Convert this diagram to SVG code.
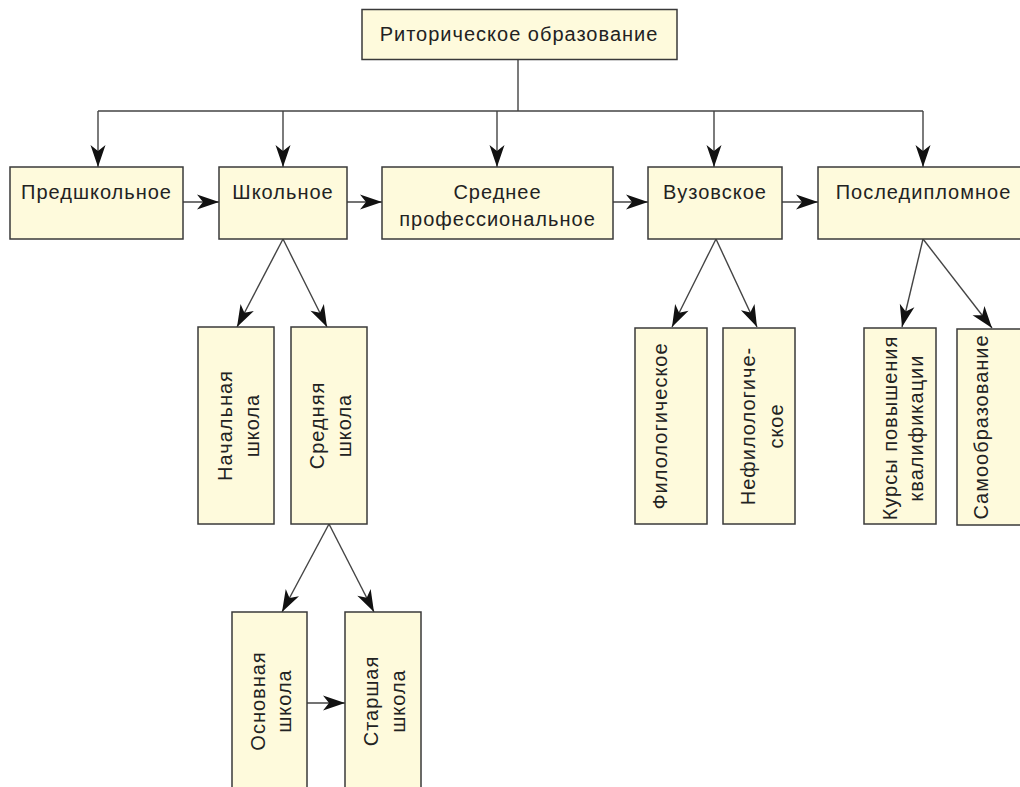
<svg xmlns="http://www.w3.org/2000/svg" width="1020" height="787" viewBox="0 0 1020 787">
<style>
  .box { fill: #FEFADC; stroke: #3a3a3a; stroke-width: 1.5; }
  .t { font-family: "Liberation Sans", Arial, sans-serif; font-size: 20px; letter-spacing: 1px; fill: #222; }
  .c { text-anchor: middle; }
  .ln { fill: none; stroke: #444; stroke-width: 1.4; }
</style>
<defs>
  <marker id="ah" viewBox="-23 -8 24 16" refX="0" refY="0" markerWidth="24" markerHeight="16" markerUnits="userSpaceOnUse" orient="auto">
    <path d="M0,0 L-22,-7.5 L-16,0 L-22,7.5 Z" fill="#111"/>
  </marker>
</defs>
<rect width="1020" height="787" fill="#fff"/>

<g id="connectors">
  <path class="ln" d="M518,59 V111 M98,111 H923"/>
  <path class="ln" d="M98,111 V167" marker-end="url(#ah)"/>
  <path class="ln" d="M283,111 V167" marker-end="url(#ah)"/>
  <path class="ln" d="M497,111 V167" marker-end="url(#ah)"/>
  <path class="ln" d="M714,111 V167" marker-end="url(#ah)"/>
  <path class="ln" d="M923,111 V167" marker-end="url(#ah)"/>
  <path class="ln" d="M183,202 H219" marker-end="url(#ah)"/>
  <path class="ln" d="M347,202 H382" marker-end="url(#ah)"/>
  <path class="ln" d="M613,202 H648" marker-end="url(#ah)"/>
  <path class="ln" d="M782,202 H818" marker-end="url(#ah)"/>
  <path class="ln" d="M283,239 L237,327" marker-end="url(#ah)"/>
  <path class="ln" d="M283,239 L327,327" marker-end="url(#ah)"/>
  <path class="ln" d="M329,524 L282,612" marker-end="url(#ah)"/>
  <path class="ln" d="M329,524 L374,612" marker-end="url(#ah)"/>
  <path class="ln" d="M307,703 H345" marker-end="url(#ah)"/>
  <path class="ln" d="M716,239 L672,327" marker-end="url(#ah)"/>
  <path class="ln" d="M716,239 L757,327" marker-end="url(#ah)"/>
  <path class="ln" d="M923,239 L902,327" marker-end="url(#ah)"/>
  <path class="ln" d="M923,239 L992,328" marker-end="url(#ah)"/>
</g>

<g id="n-root">
  <rect class="box" x="362" y="9.5" width="315" height="50"/>
  <text class="t c" x="519" y="41">Риторическое образование</text>
</g>
<g id="n-preschool">
  <rect class="box" x="10" y="167" width="173" height="72"/>
  <text class="t c" x="96.5" y="199">Предшкольное</text>
</g>
<g id="n-school">
  <rect class="box" x="219" y="167" width="128" height="72"/>
  <text class="t c" x="283" y="199">Школьное</text>
</g>
<g id="n-secondary-prof">
  <rect class="box" x="382" y="167" width="231" height="72"/>
  <text class="t c" x="497.5" y="199">Среднее</text>
  <text class="t c" x="497.5" y="226">профессиональное</text>
</g>
<g id="n-university">
  <rect class="box" x="648" y="167" width="134" height="72"/>
  <text class="t c" x="715" y="199">Вузовское</text>
</g>
<g id="n-postgrad">
  <rect class="box" x="818" y="167" width="212" height="72"/>
  <text class="t c" x="923.5" y="199">Последипломное</text>
</g>

<g id="n-primary">
  <rect class="box" x="198" y="327" width="76" height="197"/>
  <text class="t c" transform="translate(232,425.5) rotate(-90)">Начальная</text>
  <text class="t c" transform="translate(259,425.5) rotate(-90)">школа</text>
</g>
<g id="n-middle">
  <rect class="box" x="291" y="327" width="76" height="197"/>
  <text class="t c" transform="translate(324,425.5) rotate(-90)">Средняя</text>
  <text class="t c" transform="translate(351,425.5) rotate(-90)">школа</text>
</g>
<g id="n-basic">
  <rect class="box" x="232" y="612" width="75" height="200"/>
  <text class="t c" transform="translate(265,701) rotate(-90)">Основная</text>
  <text class="t c" transform="translate(291,701) rotate(-90)">школа</text>
</g>
<g id="n-senior">
  <rect class="box" x="345" y="612" width="76" height="200"/>
  <text class="t c" transform="translate(378,701) rotate(-90)">Старшая</text>
  <text class="t c" transform="translate(405,701) rotate(-90)">школа</text>
</g>

<g id="n-philology">
  <rect class="box" x="635" y="328" width="72" height="196"/>
  <text class="t c" transform="translate(667,426) rotate(-90)">Филологическое</text>
</g>
<g id="n-nonphilology">
  <rect class="box" x="723" y="328" width="72" height="196"/>
  <text class="t c" transform="translate(755,426) rotate(-90)">Нефилологиче-</text>
  <text class="t c" transform="translate(783,426) rotate(-90)">ское</text>
</g>
<g id="n-courses">
  <rect class="box" x="864" y="328" width="72" height="196"/>
  <text class="t c" transform="translate(897,428) rotate(-90)">Курсы повышения</text>
  <text class="t c" transform="translate(923,428) rotate(-90)">квалификации</text>
</g>
<g id="n-selfedu">
  <rect class="box" x="957" y="329" width="80" height="196"/>
  <text class="t c" transform="translate(988,427) rotate(-90)">Самообразование</text>
</g>
</svg>
